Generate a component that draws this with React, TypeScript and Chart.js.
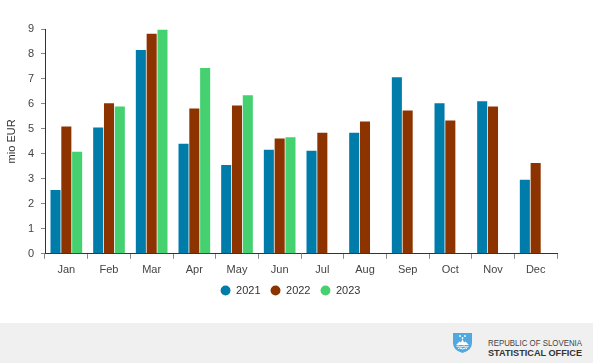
import React, { useEffect, useRef } from "react";
import { Chart, registerables } from "chart.js";

Chart.register(...registerables);

const months = ["Jan", "Feb", "Mar", "Apr", "May", "Jun", "Jul", "Aug", "Sep", "Oct", "Nov", "Dec"];
const seriesNames = ["2021", "2022", "2023"];
const values2021 = [2.55, 5.06, 8.16, 4.41, 3.56, 4.17, 4.13, 4.85, 7.07, 6.03, 6.11, 2.96];
const values2022 = [5.1, 6.03, 8.81, 5.82, 5.94, 4.62, 4.85, 5.3, 5.74, 5.34, 5.9, 3.64];
const values2023 = [4.09, 5.9, 8.97, 7.44, 6.35, 4.67, null, null, null, null, null, null];
const seriesColors = ["#007CAB", "#8C3300", "#45D170"];
const yMin = 0;
const yMax = 9;
const yStep = 1;
const yTitle = "mio EUR";

const legendShift = {
  id: "legendShift",
  afterLayout(chart: any) {
    const l = chart.legend;
    if (l) {
      l.left += 12;
      l.right += 12;
      l.top -= 7;
      l.bottom -= 7;
    }
  },
};

function BarChart() {
  const ref = useRef<HTMLCanvasElement | null>(null);
  useEffect(() => {
    document.body.style.margin = "0";
    if (!ref.current) return;
    const chart = new Chart(ref.current, {
      type: "bar",
      data: {
        labels: months,
        datasets: [values2021, values2022, values2023].map((d, i) => ({
          label: seriesNames[i],
          data: d,
          backgroundColor: seriesColors[i],
          borderWidth: 0,
          categoryPercentage: 0.76,
          barPercentage: 0.93,
        })),
      },
      options: {
        animation: false,
        responsive: false,
        devicePixelRatio: 1,
        layout: { padding: { left: 0, right: 36, top: 29, bottom: 10 } },
        plugins: {
          tooltip: { enabled: false },
          legend: {
            position: "bottom",
            labels: {
              usePointStyle: true,
              pointStyle: "circle",
              boxWidth: 10,
              boxHeight: 7,
              padding: 10,
              color: "#333333",
              font: { family: "'Liberation Sans', Arial, sans-serif", size: 11 },
            },
          },
        },
        scales: {
          x: {
            grid: {
              offset: true,
              drawOnChartArea: false,
              drawTicks: true,
              tickLength: 5,
              color: "#888888",
            },
            border: { display: true, color: "#333333", width: 1 },
            ticks: {
              color: "#444444",
              padding: 5,
              font: { family: "'Liberation Sans', Arial, sans-serif", size: 11 },
            },
          },
          y: {
            min: yMin,
            max: yMax,
            afterFit(scale: any) {
              scale.width = 45;
            },
            grid: {
              drawOnChartArea: false,
              drawTicks: true,
              tickLength: 4,
              color: "#888888",
            },
            border: { display: true, color: "#333333", width: 1 },
            ticks: {
              stepSize: yStep,
              color: "#444444",
              padding: 7,
              font: { family: "'Liberation Sans', Arial, sans-serif", size: 11 },
            },
            title: {
              display: true,
              text: yTitle,
              color: "#333333",
              padding: { top: 5, bottom: 0 },
              font: { family: "'Liberation Sans', Arial, sans-serif", size: 11 },
            },
          },
        },
      },
      plugins: [legendShift],
    });
    return () => chart.destroy();
  }, []);
  return <canvas ref={ref} width={593} height={323} style={{ display: "block" }} />;
}

function Footer() {
  return (
    <div style={{ position: "relative", width: 593, height: 40, background: "#F0F0F0" }}>
      <svg width={593} height={40} style={{ position: "absolute", left: 0, top: 0 }}>
        <g transform="translate(453,10)">
          <path d="M0,0 H19 V10 Q19,17.5 9.5,20 Q0,17.5 0,10 Z" fill="#4FA8E0" />
          <path d="M3,12 L6.5,8.5 L8,9.5 L9.5,6 L11,9.5 L12.5,8.5 L16,12 Z" fill="#FFFFFF" />
          <path d="M3.5,13.5 Q5,12.5 6.5,13.5 Q8,14.5 9.5,13.5 Q11,12.5 12.5,13.5 Q14,14.5 15.5,13.5" stroke="#FFFFFF" strokeWidth={1} fill="none" />
          <path d="M5,15.5 Q6.5,14.5 8,15.5 Q9.5,16.5 11,15.5 Q12.5,14.5 14,15.5" stroke="#FFFFFF" strokeWidth={1} fill="none" />
          <circle cx={7} cy={3} r={0.9} fill="#FFFFFF" />
          <circle cx={12} cy={3} r={0.9} fill="#FFFFFF" />
          <circle cx={9.5} cy={5} r={0.9} fill="#FFFFFF" />
        </g>
        <text x={488} y={23} fontFamily="'Liberation Sans', Arial, sans-serif" fontSize={9} fill="#444444" textLength={94} lengthAdjust="spacingAndGlyphs">
          REPUBLIC OF SLOVENIA
        </text>
        <text x={488} y={33} fontFamily="'Liberation Sans', Arial, sans-serif" fontSize={9.5} fontWeight="bold" fill="#333333" textLength={94} lengthAdjust="spacingAndGlyphs">
          STATISTICAL OFFICE
        </text>
      </svg>
    </div>
  );
}

export default function App() {
  return (
    <div style={{ width: 593, height: 363, background: "#FFFFFF", fontFamily: "'Liberation Sans', Arial, sans-serif" }}>
      <BarChart />
      <Footer />
    </div>
  );
}
